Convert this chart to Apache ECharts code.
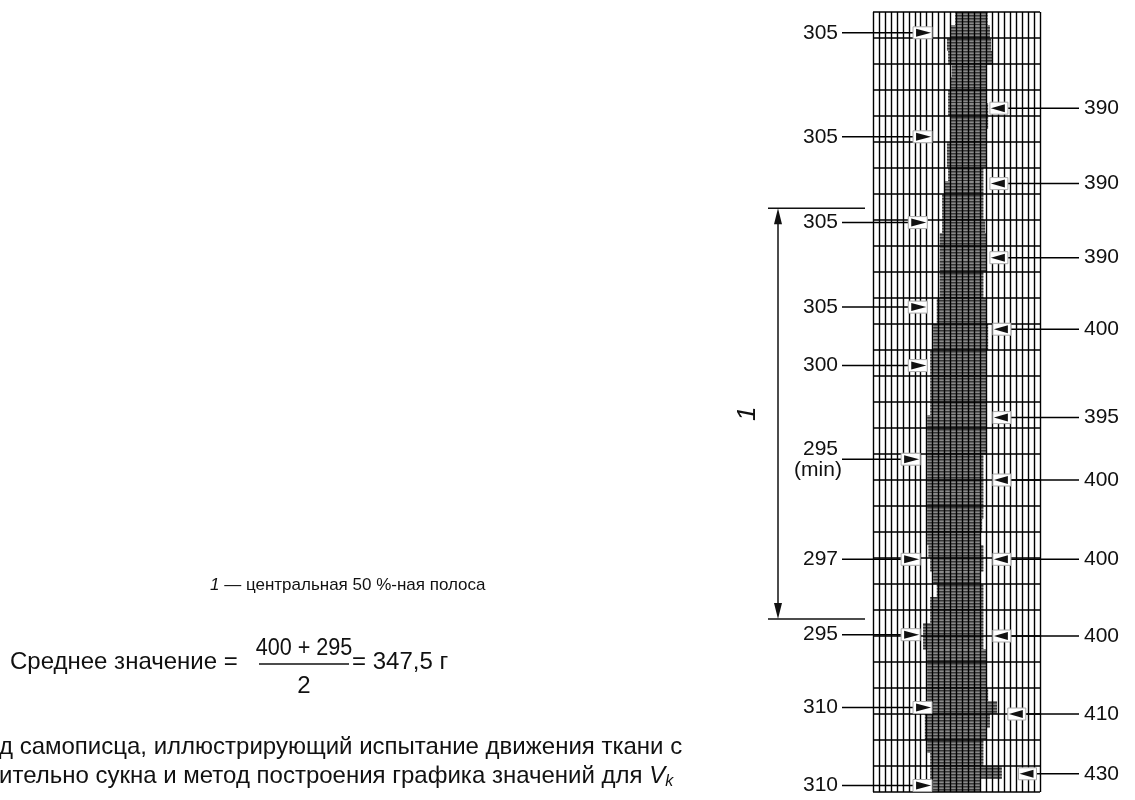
<!DOCTYPE html>
<html>
<head>
<meta charset="utf-8">
<script src="https://cdn.jsdelivr.net/npm/echarts@6/dist/echarts.min.js"></script>
<style>
html, body { margin: 0; padding: 0; background: #fff; }
#chart { width: 1135px; height: 800px; }
</style>
</head>
<body>
<div id="chart"></div>
<script>
// recorder trace: left / right edge of the band for each half-division row (chart units)
const bandLeft = [
  13.8, 13.0, 12.4, 12.6, 13.2, 13.0, 12.6, 12.6, 12.9, 12.9,
  12.4, 12.4, 12.6, 12.0, 11.6, 11.6, 11.6, 11.2, 11.2, 11.2,
  11.2, 11.2, 10.7, 10.7, 10.1, 10.1, 9.6, 9.6, 9.6, 9.6,
  9.6, 9.1, 9.1, 9.1, 9.1, 9.1, 9.1, 9.1, 9.1, 9.1,
  9.1, 9.3, 9.6, 10.1, 10.7, 9.6, 9.6, 8.4, 8.4, 9.1,
  9.1, 9.1, 9.1, 9.1, 8.7, 8.7, 9.1, 9.6, 9.6, 10.1
];
const bandRight = [
  19.2, 19.6, 19.8, 20.0, 19.1, 19.0, 19.1, 19.3, 19.3, 19.1,
  19.1, 19.0, 18.5, 18.5, 18.5, 18.5, 18.8, 19.1, 19.1, 19.0,
  18.5, 18.5, 19.1, 19.1, 19.3, 19.3, 19.1, 19.1, 19.0, 19.1,
  19.1, 19.1, 19.1, 19.0, 18.5, 18.5, 18.5, 18.5, 18.5, 18.3,
  18.0, 18.5, 18.5, 18.0, 18.5, 18.5, 18.5, 18.5, 18.5, 19.1,
  19.1, 19.1, 19.3, 20.8, 19.6, 19.1, 18.5, 18.5, 21.6, 18.0
];

// minimum peaks (left arrows)
const leftMarkRow = [0.8, 4.8, 8.1, 11.35, 13.6, 17.2, 21.05, 23.95, 26.75, 29.75];
const leftMarkTip = [9.9, 9.9, 9.1, 9.1, 9.1, 7.9, 7.9, 7.9, 9.9, 9.9];
const leftMarkLabel = ['305', '305', '305', '305', '300', '295', '297', '295', '310', '310'];
const leftMarkNote = ['', '', '', '', '', '(min)', '', '', '', ''];

// maximum peaks (right arrows)
const rightMarkRow = [3.7, 6.6, 9.45, 12.2, 15.6, 18.0, 21.05, 24.0, 27.0, 29.3];
const rightMarkTip = [19.6, 19.6, 19.6, 20.1, 20.1, 20.1, 20.1, 20.1, 22.6, 24.4];
const rightMarkLabel = ['390', '390', '390', '400', '395', '400', '400', '400', '410', '430'];

// central 50 % band (rows)
const centralBand = [7.55, 23.35];

const FONT = '"Liberation Sans", Arial, sans-serif';

const bandData = bandLeft.map((l, i) => [i * 0.5, (i + 1) * 0.5, l, bandRight[i]]);
const leftData = leftMarkRow.map((r, i) => [r, leftMarkTip[i], i]);
const rightData = rightMarkRow.map((r, i) => [r, rightMarkTip[i], i]);

const chart = echarts.init(document.getElementById('chart'));

const option = {
  animation: false,
  backgroundColor: '#fff',
  grid: { left: 873, top: 12, width: 167, height: 780 },
  xAxis: {
    type: 'value', min: 0, max: 28, interval: 1, z: 3,
    axisLine: { show: false }, axisTick: { show: false }, axisLabel: { show: false },
    splitLine: { show: true, lineStyle: { color: '#000', width: 1.4 } }
  },
  yAxis: {
    type: 'value', min: 0, max: 30, interval: 1, inverse: true, z: 3,
    axisLine: { show: false }, axisTick: { show: false }, axisLabel: { show: false },
    splitLine: { show: true, lineStyle: { color: '#000', width: 1.6 } }
  },
  series: [
    {
      type: 'custom',
      z: 2,
      data: bandData,
      encode: { x: [2, 3], y: [0, 1] },
      renderItem: function (params, api) {
        const p0 = api.coord([api.value(2), api.value(0)]);
        const p1 = api.coord([api.value(3), api.value(1)]);
        const w = p1[0] - p0[0];
        const children = [{
          type: 'rect',
          shape: { x: p0[0], y: p0[1], width: w, height: p1[1] - p0[1] },
          style: { fill: '#8a8a8a' }
        }];
        for (let y = Math.ceil(p0[1] / 3) * 3; y < p1[1]; y += 3) {
          children.push({
            type: 'rect',
            shape: { x: p0[0], y: y, width: w, height: 1.6 },
            style: { fill: '#383838' }
          });
        }
        return { type: 'group', children: children };
      }
    },
    {
      type: 'custom',
      z: 5,
      clip: false,
      data: leftData,
      encode: { x: 1, y: 0 },
      renderItem: function (params, api) {
        const i = api.value(2);
        const p = api.coord([api.value(1), api.value(0)]);
        const gx = api.coord([0, api.value(0)])[0];
        const y = p[1];
        const children = [
          { type: 'line', shape: { x1: gx - 31, y1: y, x2: p[0] - 19, y2: y }, style: { stroke: '#000', lineWidth: 1.5 } },
          { type: 'rect', shape: { x: p[0] - 19, y: y - 6, width: 19, height: 12 }, style: { fill: '#fff', stroke: '#aaa', lineWidth: 1 } },
          { type: 'polygon', shape: { points: [[p[0] - 16, y - 4], [p[0] - 1, y], [p[0] - 16, y + 4]] }, style: { fill: '#111' } }
        ];
        const note = leftMarkNote[i];
        if (note) {
          children.push({ type: 'text', style: { text: leftMarkLabel[i], x: gx - 35, y: y + 1, align: 'right', verticalAlign: 'bottom', font: '21px ' + FONT, fill: '#111' } });
          children.push({ type: 'text', style: { text: note, x: gx - 55, y: y + 1, align: 'center', verticalAlign: 'top', font: '21px ' + FONT, fill: '#111' } });
        } else {
          children.push({ type: 'text', style: { text: leftMarkLabel[i], x: gx - 35, y: y, align: 'right', verticalAlign: 'middle', font: '21px ' + FONT, fill: '#111' } });
        }
        return { type: 'group', children: children };
      }
    },
    {
      type: 'custom',
      z: 5,
      clip: false,
      data: rightData,
      encode: { x: 1, y: 0 },
      renderItem: function (params, api) {
        const i = api.value(2);
        const p = api.coord([api.value(1), api.value(0)]);
        const gx = api.coord([28, api.value(0)])[0];
        const y = p[1];
        return {
          type: 'group',
          children: [
            { type: 'line', shape: { x1: p[0] + 18, y1: y, x2: gx + 39, y2: y }, style: { stroke: '#000', lineWidth: 1.5 } },
            { type: 'rect', shape: { x: p[0], y: y - 6, width: 18, height: 12 }, style: { fill: '#fff', stroke: '#aaa', lineWidth: 1 } },
            { type: 'polygon', shape: { points: [[p[0] + 15, y - 4], [p[0] + 1, y], [p[0] + 15, y + 4]] }, style: { fill: '#111' } },
            { type: 'text', style: { text: rightMarkLabel[i], x: gx + 44, y: y, align: 'left', verticalAlign: 'middle', font: '21px ' + FONT, fill: '#111' } }
          ]
        };
      }
    },
    {
      type: 'custom',
      z: 5,
      clip: false,
      data: [centralBand],
      encode: { y: [0, 1] },
      renderItem: function (params, api) {
        const t = api.coord([0, api.value(0)]);
        const b = api.coord([0, api.value(1)]);
        const gx = t[0];
        const ax = gx - 95;
        return {
          type: 'group',
          children: [
            { type: 'line', shape: { x1: gx - 105, y1: t[1], x2: gx - 8, y2: t[1] }, style: { stroke: '#111', lineWidth: 1.5 } },
            { type: 'line', shape: { x1: gx - 105, y1: b[1], x2: gx - 8, y2: b[1] }, style: { stroke: '#111', lineWidth: 1.5 } },
            { type: 'line', shape: { x1: ax, y1: t[1] + 8, x2: ax, y2: b[1] - 8 }, style: { stroke: '#111', lineWidth: 1.5 } },
            { type: 'polygon', shape: { points: [[ax, t[1]], [ax - 4, t[1] + 16], [ax + 4, t[1] + 16]] }, style: { fill: '#111' } },
            { type: 'polygon', shape: { points: [[ax, b[1]], [ax - 4, b[1] - 16], [ax + 4, b[1] - 16]] }, style: { fill: '#111' } },
            { type: 'text', rotation: Math.PI / 2, x: ax - 30, y: (t[1] + b[1]) / 2, style: { text: '1', align: 'center', verticalAlign: 'middle', font: 'italic 26px ' + FONT, fill: '#111' } }
          ]
        };
      }
    }
  ],
  graphic: [
    {
      type: 'text', left: 210, top: 577,
      style: {
        text: '{i|1} — центральная 50 %-ная полоса',
        font: '17px ' + FONT, fill: '#111',
        rich: { i: { fontStyle: 'italic', fontSize: 17, fontFamily: FONT } }
      }
    },
    { type: 'text', left: 10, top: 650, style: { text: 'Среднее значение =', font: '24px ' + FONT, fill: '#111' } },
    { type: 'text', x: 304, y: 648, scaleX: 0.9, style: { text: '400 + 295', align: 'center', verticalAlign: 'middle', font: '24px ' + FONT, fill: '#111' } },
    { type: 'line', shape: { x1: 259, y1: 664, x2: 349, y2: 664 }, style: { stroke: '#111', lineWidth: 1.3 } },
    { type: 'text', x: 304, y: 686, style: { text: '2', align: 'center', verticalAlign: 'middle', font: '24px ' + FONT, fill: '#111' } },
    { type: 'text', left: 352, top: 650, style: { text: '= 347,5 г', font: '24px ' + FONT, fill: '#111' } },
    { type: 'text', left: -1, top: 735, style: { text: 'д самописца, иллюстрирующий испытание движения ткани с', font: '24px ' + FONT, fill: '#111' } },
    {
      type: 'text', left: -1, top: 764,
      style: {
        text: 'ительно сукна и метод построения графика значений для {v|V}{s|k}',
        font: '24px ' + FONT, fill: '#111',
        rich: {
          v: { fontStyle: 'italic', fontSize: 24, fontFamily: FONT },
          s: { fontStyle: 'italic', fontSize: 16, fontFamily: FONT, padding: [12, 0, 0, 0] }
        }
      }
    }
  ]
};

chart.setOption(option);
</script>
</body>
</html>
